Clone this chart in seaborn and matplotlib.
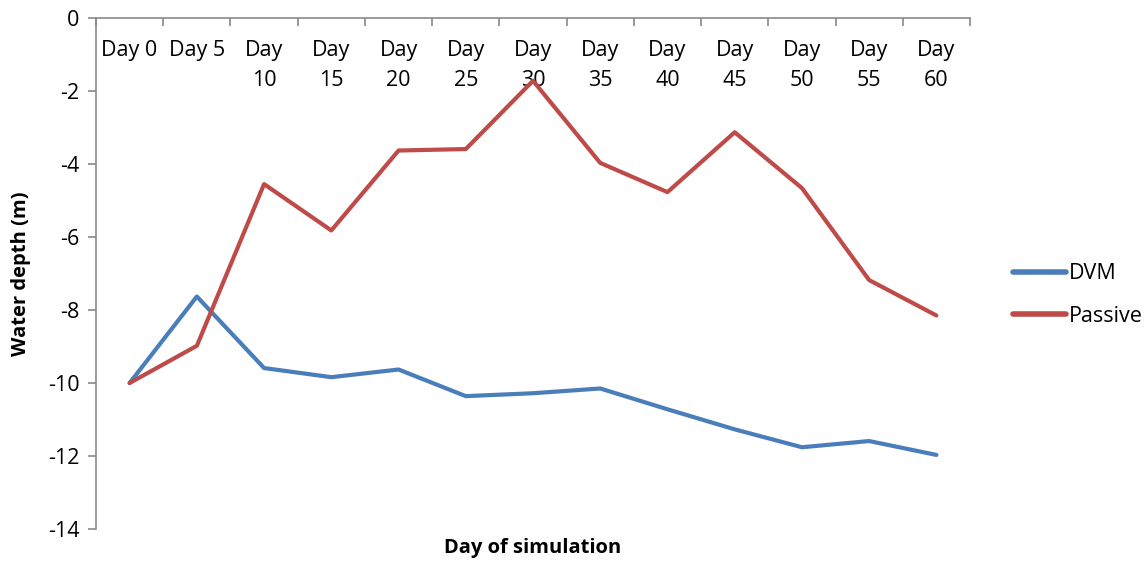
import matplotlib
matplotlib.use("Agg")
import matplotlib.pyplot as plt
import numpy as np
import pandas as pd
import seaborn as sns

# values
days = ["Day 0", "Day 5", "Day\n10", "Day\n15", "Day\n20", "Day\n25", "Day\n30",
        "Day\n35", "Day\n40", "Day\n45", "Day\n50", "Day\n55", "Day\n60"]
dvm = [-10.0, -7.63, -9.59, -9.84, -9.63, -10.36, -10.28, -10.15, -10.72,
       -11.27, -11.76, -11.59, -11.97]
passive = [-10.0, -8.98, -4.55, -5.82, -3.63, -3.59, -1.72, -3.97, -4.77,
           -3.13, -4.66, -7.18, -8.15]
series_names = ["DVM", "Passive"]
series_colors = ["#4A7EBB", "#BE4B48"]

df = pd.DataFrame({
    "pos": list(range(len(days))) * 2,
    "depth": dvm + passive,
    "series": [series_names[0]] * len(days) + [series_names[1]] * len(days),
})

sns.set_style("white")
plt.rcParams["font.family"] = ["Open Sans", "DejaVu Sans"]
plt.rcParams["text.color"] = "black"
plt.rcParams["xtick.color"] = "black"
plt.rcParams["ytick.color"] = "black"
plt.rcParams["axes.labelcolor"] = "black"

fig = plt.figure(figsize=(11.47, 5.65), dpi=100)
ax = fig.add_axes([0.0837, 0.0637, 0.762, 0.9044])

sns.lineplot(data=df, x="pos", y="depth", hue="series",
             palette=series_colors, linewidth=3, ax=ax, legend=True)

axis_grey = "#898989"
fs = 15.5
ax.set_xlim(-0.5, len(days) - 0.5)
ax.set_ylim(-14, 0)
ax.set_yticks(np.arange(-14, 1, 2))
ax.set_yticklabels([f"{v:d}" for v in np.arange(-14, 1, 2)], fontsize=fs)

# category axis runs along y = 0 with labels hanging inside the plot
ax.spines["bottom"].set_position(("data", 0))
ax.spines["top"].set_visible(False)
ax.spines["right"].set_visible(False)
for s in ("bottom", "left"):
    ax.spines[s].set_color(axis_grey)
    ax.spines[s].set_linewidth(1.2)

ax.set_xticks(range(len(days)))
ax.set_xticklabels(days, fontsize=fs, linespacing=1.55)
ax.set_xticks(np.arange(-0.5, len(days), 1), minor=True)
ax.tick_params(axis="x", which="major", length=0, pad=16)
ax.tick_params(axis="x", which="minor", length=6, color=axis_grey, width=1.2,
               direction="out", bottom=True)
ax.tick_params(axis="y", length=6, color=axis_grey, width=1.2, left=True,
               direction="out", pad=6)

ax.set_xlabel("")
ax.set_ylabel("Water depth (m)", fontsize=14.5, fontweight="bold", labelpad=12)
fig.text(0.4647, 0.03, "Day of simulation", fontsize=14.5, fontweight="bold",
         ha="center", va="center")

leg = ax.legend(loc="center left", bbox_to_anchor=(0.866, 0.478),
                bbox_transform=fig.transFigure, frameon=False, fontsize=fs,
                handlelength=2.5, handletextpad=0.1, labelspacing=1.0)
for line in leg.get_lines():
    line.set_linewidth(4)

fig.savefig("out.png", dpi=100)
